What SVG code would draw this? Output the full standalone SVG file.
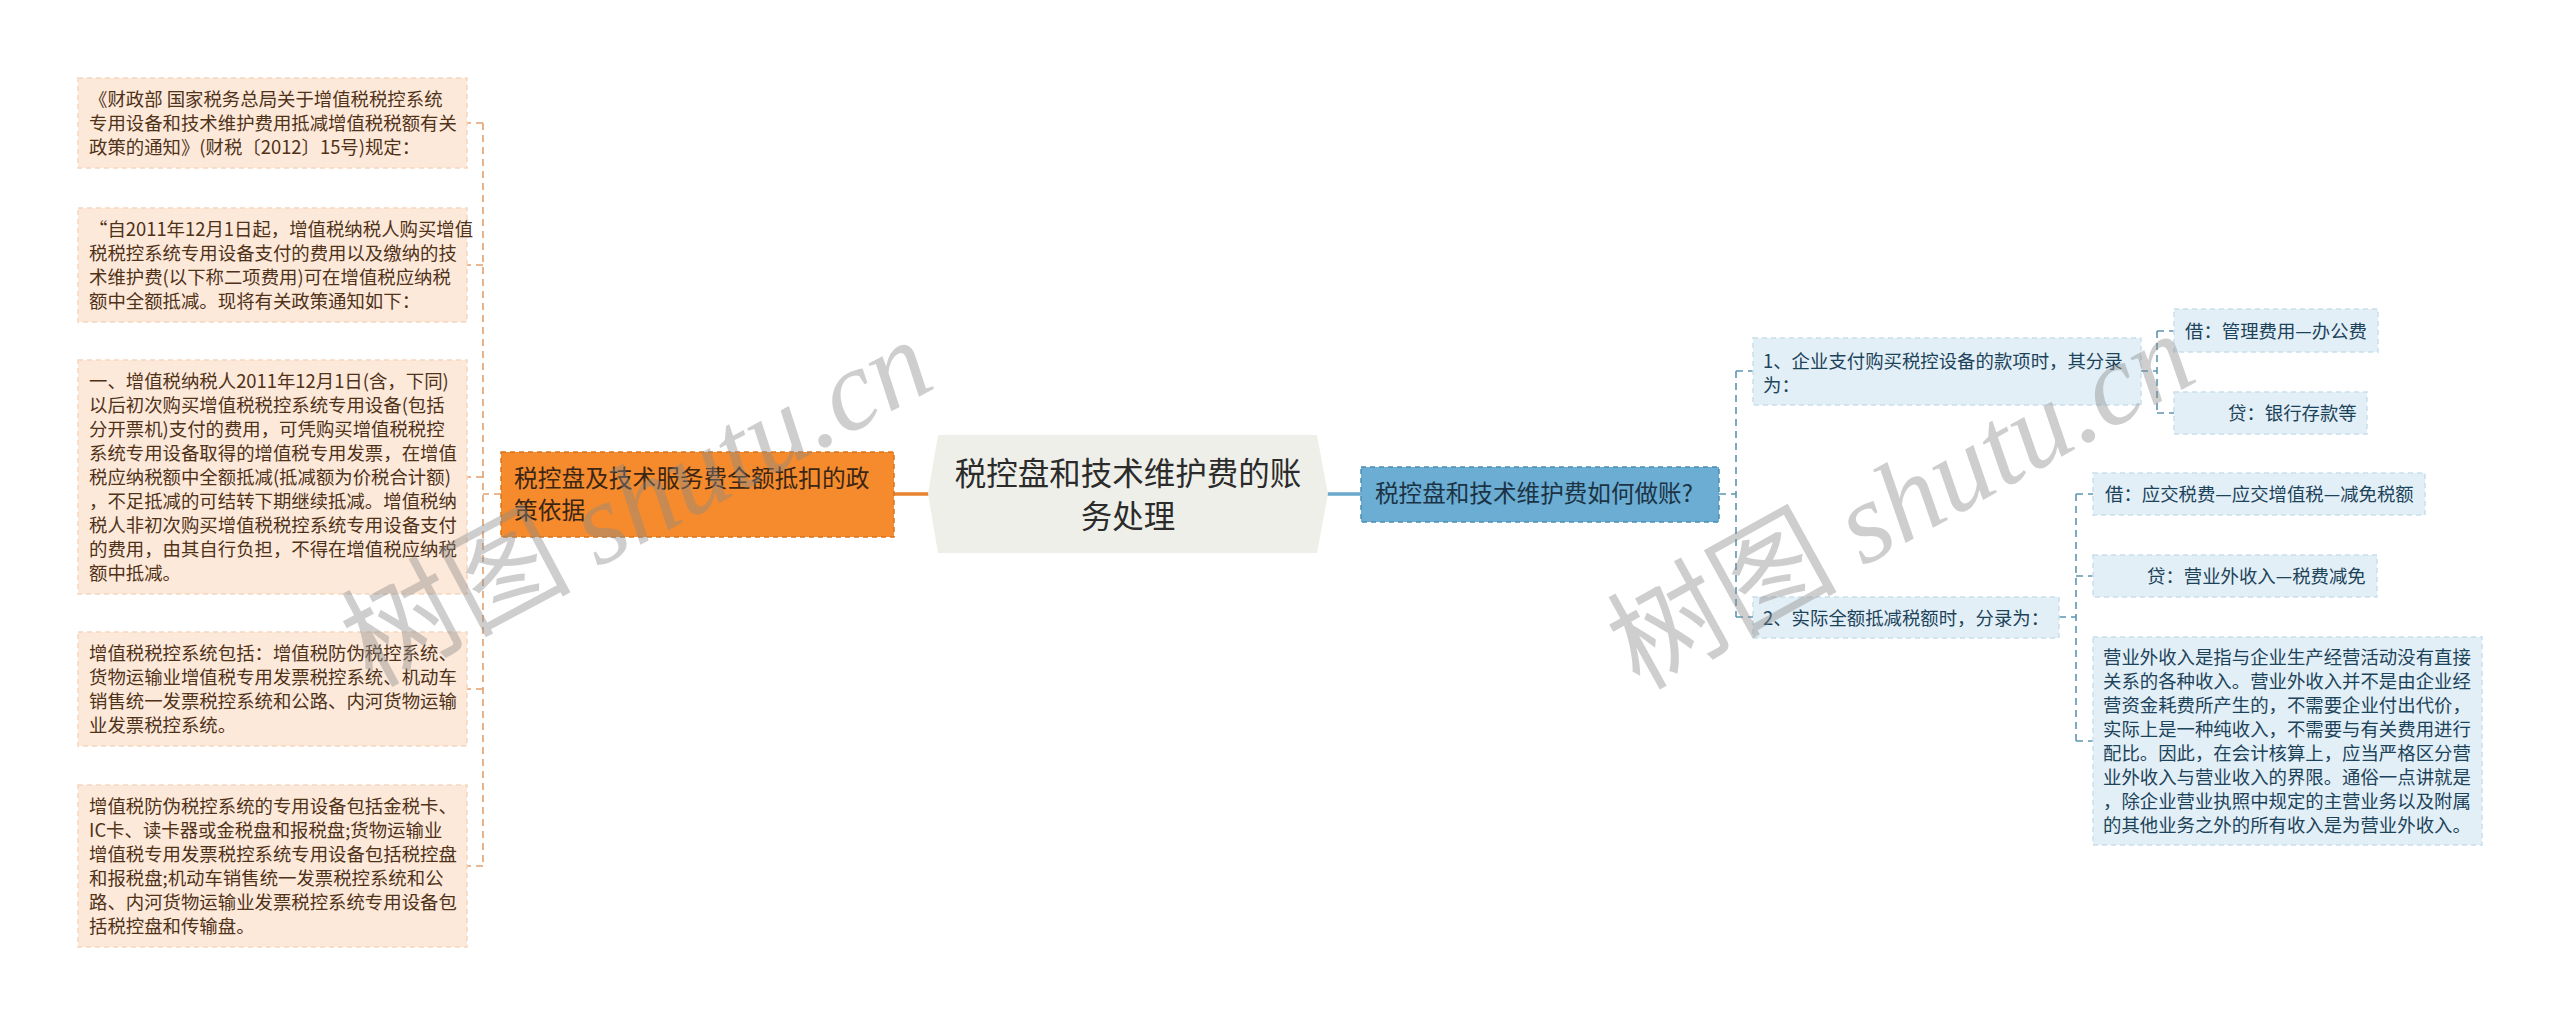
<svg xmlns="http://www.w3.org/2000/svg" width="2560" height="1025" viewBox="0 0 2560 1025">
<style>
text{font-family:"Noto Sans CJK SC","Noto Sans",sans-serif}
.lbox{fill:#fde9da;stroke:#f5d6bf;stroke-width:1.5;stroke-dasharray:5 4}
.ltxt{font-size:18.4px;fill:#4f3218}
.rbox{fill:#e2eff7;stroke:#c9dfec;stroke-width:1.5;stroke-dasharray:5 4}
.rtxt{font-size:18.4px;fill:#1d435a}
.lcon{fill:none;stroke:#e3a06c;stroke-width:1.6;stroke-dasharray:7 5}
.rcon{fill:none;stroke:#5e95b1;stroke-width:1.6;stroke-dasharray:7 5}
.wm{font-size:115px;fill:#8a8a8a;fill-opacity:0.42}
</style>
<rect width="2560" height="1025" fill="#ffffff"/>
<g id="connectors">
<path class="lcon" d="M501,494 H483 M483,123 V867 M483,123 H467 M483,265 H467 M483,477 H467 M483,689 H467 M483,866 H467"/>
<path d="M893,494 H929" fill="none" stroke="#e8832f" stroke-width="3.5"/>
<path d="M1327,494 H1361" fill="none" stroke="#6aa8cb" stroke-width="3.5"/>
<path class="rcon" d="M1719,494 H1736 M1736,371 V617 M1736,371 H1753 M1736,617 H1753"/>
<path class="rcon" d="M2141,371 H2157 M2157,331 V413 M2157,331 H2174 M2157,413 H2174"/>
<path class="rcon" d="M2059,617 H2076 M2076,494 V741 M2076,494 H2093 M2076,576 H2093 M2076,741 H2093"/>
</g>
<g id="center">
<polygon points="938,435 1317,435 1328,494 1317,553 938,553 928,494" fill="#efefe9"/>
<text x="1128" y="485" text-anchor="middle" font-size="31.5" fill="#2b2b2b">税控盘和技术维护费的账</text>
<text x="1128" y="528" text-anchor="middle" font-size="31.5" fill="#2b2b2b">务处理</text>
</g>
<g id="n-left">
<rect x="501" y="452" width="393" height="85" fill="#f58b2c" stroke="#d9751f" stroke-width="1.5" stroke-dasharray="5 4"/>
<text font-size="23.7" fill="#3b2616"><tspan x="514" y="487">税控盘及技术服务费全额抵扣的政</tspan><tspan x="514" y="519">策依据</tspan></text>
</g>
<g id="n-l1">
<rect class="lbox" x="78" y="78" width="389" height="90"/>
<text class="ltxt"><tspan x="89" y="106">《财政部 国家税务总局关于增值税税控系统</tspan><tspan x="89" y="130">专用设备和技术维护费用抵减增值税税额有关</tspan><tspan x="89" y="154">政策的通知》(财税〔2012〕15号)规定：</tspan></text>
</g>
<g id="n-l2">
<rect class="lbox" x="78" y="208" width="389" height="114"/>
<text class="ltxt"><tspan x="89" y="236">“自2011年12月1日起，增值税纳税人购买增值</tspan><tspan x="89" y="260">税税控系统专用设备支付的费用以及缴纳的技</tspan><tspan x="89" y="284">术维护费(以下称二项费用)可在增值税应纳税</tspan><tspan x="89" y="308">额中全额抵减。现将有关政策通知如下：</tspan></text>
</g>
<g id="n-l3">
<rect class="lbox" x="78" y="360" width="389" height="234"/>
<text class="ltxt"><tspan x="89" y="388">一、增值税纳税人2011年12月1日(含，下同)</tspan><tspan x="89" y="412">以后初次购买增值税税控系统专用设备(包括</tspan><tspan x="89" y="436">分开票机)支付的费用，可凭购买增值税税控</tspan><tspan x="89" y="460">系统专用设备取得的增值税专用发票，在增值</tspan><tspan x="89" y="484">税应纳税额中全额抵减(抵减额为价税合计额)</tspan><tspan x="89" y="508">，不足抵减的可结转下期继续抵减。增值税纳</tspan><tspan x="89" y="532">税人非初次购买增值税税控系统专用设备支付</tspan><tspan x="89" y="556">的费用，由其自行负担，不得在增值税应纳税</tspan><tspan x="89" y="580">额中抵减。</tspan></text>
</g>
<g id="n-l4">
<rect class="lbox" x="78" y="632" width="389" height="114"/>
<text class="ltxt"><tspan x="89" y="660">增值税税控系统包括：增值税防伪税控系统、</tspan><tspan x="89" y="684">货物运输业增值税专用发票税控系统、机动车</tspan><tspan x="89" y="708">销售统一发票税控系统和公路、内河货物运输</tspan><tspan x="89" y="732">业发票税控系统。</tspan></text>
</g>
<g id="n-l5">
<rect class="lbox" x="78" y="785" width="389" height="162"/>
<text class="ltxt"><tspan x="89" y="813">增值税防伪税控系统的专用设备包括金税卡、</tspan><tspan x="89" y="837">IC卡、读卡器或金税盘和报税盘;货物运输业</tspan><tspan x="89" y="861">增值税专用发票税控系统专用设备包括税控盘</tspan><tspan x="89" y="885">和报税盘;机动车销售统一发票税控系统和公</tspan><tspan x="89" y="909">路、内河货物运输业发票税控系统专用设备包</tspan><tspan x="89" y="933">括税控盘和传输盘。</tspan></text>
</g>
<g id="n-right">
<rect x="1361" y="467" width="358" height="55" fill="#6badd3" stroke="#4b8db3" stroke-width="1.5" stroke-dasharray="5 4"/>
<text x="1375" y="502" font-size="23.6" fill="#1b3344">税控盘和技术维护费如何做账?</text>
</g>
<g id="n-r1">
<rect class="rbox" x="1753" y="338" width="388" height="67"/>
<text class="rtxt"><tspan x="1763" y="368">1、企业支付购买税控设备的款项时，其分录</tspan><tspan x="1763" y="392">为：</tspan></text>
</g>
<g id="n-r1a">
<rect class="rbox" x="2174" y="309" width="204" height="43"/>
<text class="rtxt" x="2185" y="338">借：管理费用—办公费</text>
</g>
<g id="n-r1b">
<rect class="rbox" x="2174" y="392" width="193" height="42"/>
<text class="rtxt" x="2228" y="420">贷：银行存款等</text>
</g>
<g id="n-r2">
<rect class="rbox" x="1753" y="597" width="306" height="41"/>
<text class="rtxt" x="1763" y="625">2、实际全额抵减税额时，分录为：</text>
</g>
<g id="n-r2a">
<rect class="rbox" x="2093" y="473" width="332" height="42"/>
<text class="rtxt" x="2105" y="501">借：应交税费—应交增值税—减免税额</text>
</g>
<g id="n-r2b">
<rect class="rbox" x="2093" y="555" width="284" height="42"/>
<text class="rtxt" x="2147" y="583">贷：营业外收入—税费减免</text>
</g>
<g id="n-r2c">
<rect class="rbox" x="2093" y="637" width="389" height="208"/>
<text class="rtxt"><tspan x="2103" y="664">营业外收入是指与企业生产经营活动没有直接</tspan><tspan x="2103" y="688">关系的各种收入。营业外收入并不是由企业经</tspan><tspan x="2103" y="712">营资金耗费所产生的，不需要企业付出代价，</tspan><tspan x="2103" y="736">实际上是一种纯收入，不需要与有关费用进行</tspan><tspan x="2103" y="760">配比。因此，在会计核算上，应当严格区分营</tspan><tspan x="2103" y="784">业外收入与营业收入的界限。通俗一点讲就是</tspan><tspan x="2103" y="808">，除企业营业执照中规定的主营业务以及附属</tspan><tspan x="2103" y="832">的其他业务之外的所有收入是为营业外收入。</tspan></text>
</g>
<g id="watermark">
<text class="wm" x="655" y="537" text-anchor="middle" transform="rotate(-28 655 537)">树图 <tspan font-family="Liberation Serif" font-style="italic">shutu.cn</tspan></text>
<text class="wm" x="1920" y="535" text-anchor="middle" transform="rotate(-29 1920 535)">树图 <tspan font-family="Liberation Serif" font-style="italic">shutu.cn</tspan></text>
</g>
</svg>
